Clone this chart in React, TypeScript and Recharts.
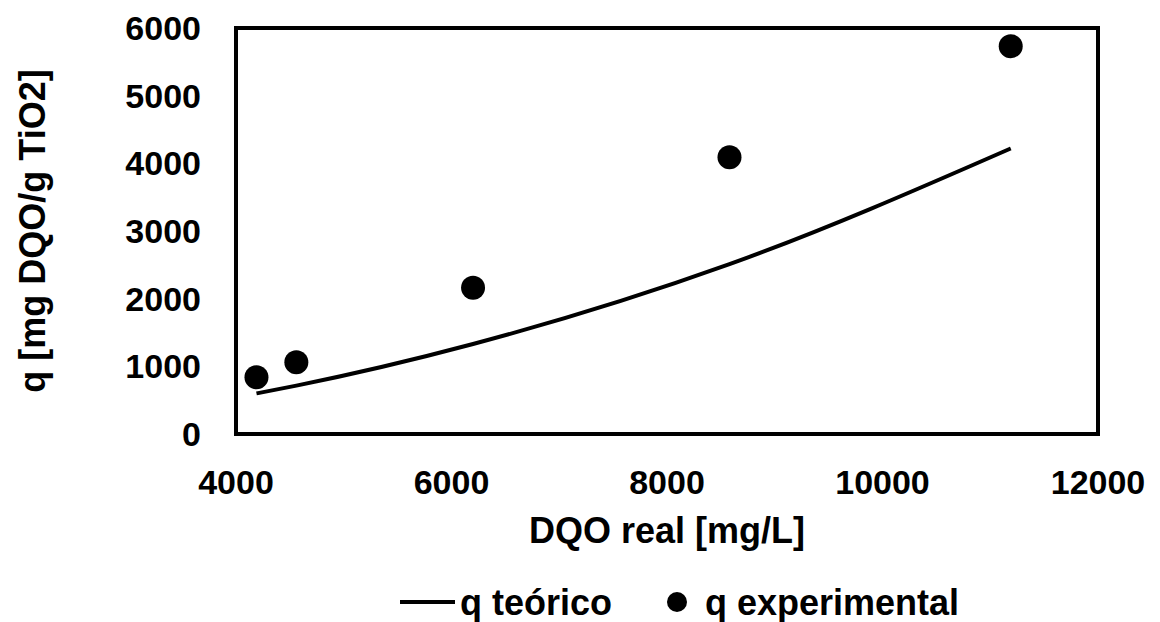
import React from 'react';
import { ComposedChart, Line, Scatter, XAxis, YAxis, ReferenceLine, Legend } from 'recharts';

const dqoReal = [4190, 4560, 6200, 8580, 11190];
const qTeorico = [600, 715, 1330, 2510, 4220];
const qExperimental = [840, 1060, 2160, 4090, 5730];
const xTicks = [4000, 6000, 8000, 10000, 12000];
const yTicks = [0, 1000, 2000, 3000, 4000, 5000, 6000];

const teoricoData = dqoReal.map((x, i) => ({ x, y: qTeorico[i] }));
const experimentalData = dqoReal.map((x, i) => ({ x, y: qExperimental[i] }));

const FONT = '"Liberation Sans", Arial, sans-serif';
const W = 1152;
const H = 614;

const YTick = (props: any) => {
  const { x, y, payload } = props;
  return (
    <text x={x} y={y} dy="0.355em" textAnchor="end" fontFamily={FONT} fontWeight="bold" fontSize={34} fill="#000">
      {payload.value}
    </text>
  );
};

const XTick = (props: any) => {
  const { x, y, payload } = props;
  return (
    <text x={x} y={y} dy="0.71em" textAnchor="middle" fontFamily={FONT} fontWeight="bold" fontSize={34} fill="#000">
      {payload.value}
    </text>
  );
};

const XLabel = (props: any) => {
  const vb = props.viewBox || {};
  return (
    <text x={vb.x + vb.width / 2} y={vb.y + 109} textAnchor="middle" fontFamily={FONT} fontWeight="bold" fontSize={36} fill="#000">
      DQO real [mg/L]
    </text>
  );
};

const YLabel = (props: any) => {
  const vb = props.viewBox || {};
  const cy = vb.y + vb.height / 2;
  const cx = 37;
  return (
    <text x={cx} y={cy} transform={`rotate(-90 ${cx} ${cy})`} textAnchor="middle" fontFamily={FONT} fontWeight="bold" fontSize={36} fill="#000">
      q [mg DQO/g TiO2]
    </text>
  );
};

const Dot = (props: any) => {
  const { cx, cy } = props;
  return <circle cx={cx} cy={cy} r={12} fill="#000" />;
};

const LegendContent = () => (
  <svg width={W} height={40} style={{ display: 'block' }}>
    <line x1={392} y1={20} x2={447} y2={20} stroke="#000" strokeWidth={4} />
    <text x={452} y={20} dy="0.355em" fontFamily={FONT} fontWeight="bold" fontSize={36} fill="#000">q teórico</text>
    <circle cx={669} cy={20} r={10} fill="#000" />
    <text x={697} y={20} dy="0.355em" fontFamily={FONT} fontWeight="bold" fontSize={36} fill="#000">q experimental</text>
  </svg>
);

export default function App() {
  return (
    <div style={{ width: W, height: H, background: '#fff' }}>
      <ComposedChart width={W} height={H} margin={{ top: 20, right: 62, left: 0, bottom: 108 }}>
        <XAxis
          type="number"
          dataKey="x"
          domain={[4000, 12000]}
          ticks={xTicks}
          axisLine={false}
          tickLine={false}
          tickMargin={30}
          tick={<XTick />}
          height={80}
          interval={0}
          allowDataOverflow
          label={<XLabel />}
        />
        <YAxis
          type="number"
          dataKey="y"
          domain={[0, 6000]}
          ticks={yTicks}
          axisLine={false}
          tickLine={false}
          tickMargin={29}
          tick={<YTick />}
          width={228}
          interval={0}
          allowDataOverflow
          label={<YLabel />}
        />
        <ReferenceLine x={4000} stroke="#000" strokeWidth={4} strokeLinecap="square" />
        <ReferenceLine x={12000} stroke="#000" strokeWidth={4} strokeLinecap="square" />
        <ReferenceLine y={0} stroke="#000" strokeWidth={4} strokeLinecap="square" />
        <ReferenceLine y={6000} stroke="#000" strokeWidth={4} strokeLinecap="square" />
        <Line
          data={teoricoData}
          dataKey="y"
          type="monotone"
          stroke="#000"
          strokeWidth={4}
          dot={false}
          activeDot={false}
          name="q teórico"
          isAnimationActive={false}
        />
        <Scatter
          data={experimentalData}
          dataKey="y"
          fill="#000"
          shape={<Dot />}
          name="q experimental"
          isAnimationActive={false}
        />
        <Legend
          verticalAlign="middle"
          layout="horizontal"
          wrapperStyle={{ top: 574, left: 0, width: W, height: 40 }}
          content={<LegendContent />}
        />
      </ComposedChart>
    </div>
  );
}
